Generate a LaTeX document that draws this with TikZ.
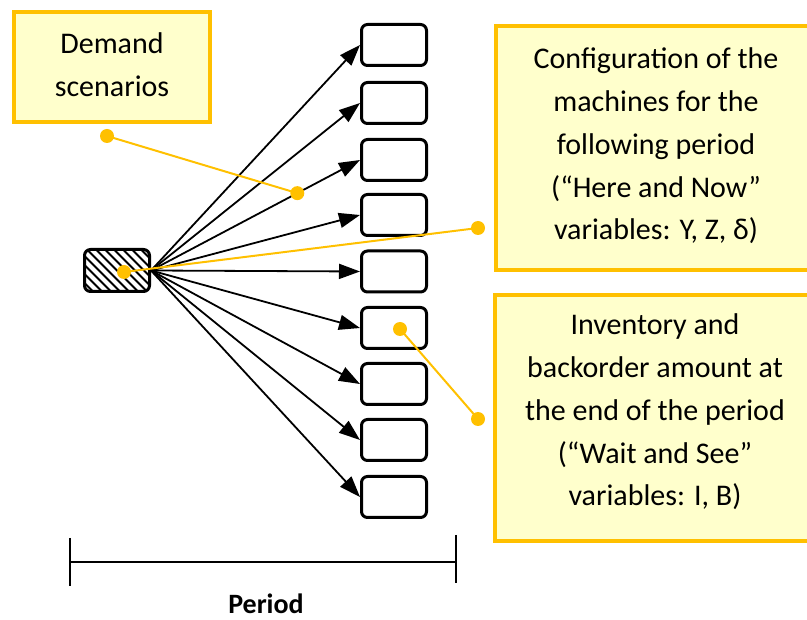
\documentclass[tikz,border=0pt]{standalone}
\usepackage{fontspec}
\setmainfont{Carlito}
\usetikzlibrary{arrows.meta,calc}
\definecolor{calloutedge}{HTML}{FFC000}
\definecolor{calloutfill}{HTML}{FFFFCC}
\begin{document}
\begin{tikzpicture}[x=1pt,y=-1pt,
  callout/.style={draw=calloutedge, fill=calloutfill, line width=4pt, inner sep=0pt},
  callouttext/.style={inner sep=0pt, align=center, font=\fontsize{30}{42.8}\selectfont},
  scenario/.style={draw=black, fill=white, line width=3pt, rounded corners=6pt,
    minimum width=65pt, minimum height=41pt, inner sep=0pt},
  root/.style={draw=black, line width=3pt, rounded corners=6pt,
    minimum width=65pt, minimum height=42pt, inner sep=0pt},
  branch/.style={draw=black, line width=1.8pt,
    -{Triangle[length=21pt,width=15pt]}},
  leader/.style={draw=calloutedge, line width=2pt},
  pin/.style={fill=calloutedge},
  span/.style={draw=black, line width=2pt}]
\useasboundingbox (0,0) rectangle (807,620);

% text boxes
\node[callout, minimum width=196pt, minimum height=110pt] (demand) at (112,67) {};
\node[callout, minimum width=317pt, minimum height=244pt] (config) at (654.5,148) {};
\node[callout, minimum width=318pt, minimum height=246pt] (invent) at (654,418) {};
\node[callouttext] (demandtext) at (112,65) {Demand\\scenarios};
\node[callouttext] (configtext) at (656,146)
  {Configuration of the\\machines for the\\following period\\(“Here and Now”\\variables: Y, Z, δ)};
\node[callouttext] (inventtext) at (655,412)
  {Inventory and\\backorder amount at\\the end of the period\\(“Wait and See”\\variables: I, B)};

% root node with hatching
\node[root, path picture={
    \foreach \k in {-8,...,8}
      \draw[black, line width=1.8pt, shift={(path picture bounding box.center)}]
        (\k*9-45,-45) -- ++(90,90);
  }] (src) at (117,270.5) {};

% scenario boxes
\foreach \i/\yy in {1/45,2/103,3/160,4/215,5/271.5,6/328,7/384,8/440,9/497}
  \node[scenario] (s\i) at (394,\yy) {};

% branches
\foreach \i in {1,...,9}
  \draw[branch] (src.east) -- (s\i.west);

% leader lines
\coordinate (dA) at (107,136);
\coordinate (dB) at ($(src.east)!0.70!(s3.west)$);
\coordinate (cA) at (124,272);
\coordinate (cB) at (478,228);
\coordinate (iA) at (400,329);
\coordinate (iB) at (478,419);
\draw[leader] (dA) -- (dB);
\draw[leader] (cA) -- (cB);
\draw[leader] (iA) -- (iB);
\foreach \p in {dA,dB,cA,cB,iA,iB}
  \fill[pin] (\p) circle (7pt);

% period span
\coordinate (pL) at (70,562);
\coordinate (pR) at (456,562);
\coordinate (pLt) at (70,538);
\coordinate (pLb) at (70,586);
\coordinate (pRt) at (456,535);
\coordinate (pRb) at (456,583);
\draw[span] (pL) -- (pR);
\draw[span] (pLt) -- (pLb);
\draw[span] (pRt) -- (pRb);
\node[anchor=base, inner sep=0pt, font=\fontsize{28}{32}\selectfont\bfseries] (period) at (266,613) {Period};
\end{tikzpicture}
\end{document}
